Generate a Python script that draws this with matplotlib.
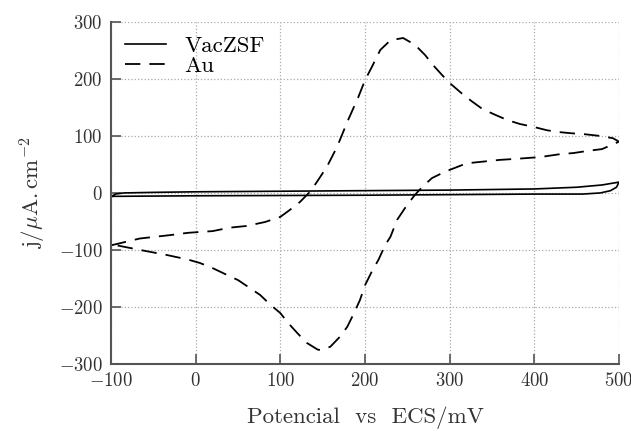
import matplotlib
matplotlib.use("Agg")
import matplotlib.pyplot as plt

plt.rcParams['font.family'] = 'serif'
plt.rcParams['font.serif'] = ['cmr10']
plt.rcParams['mathtext.fontset'] = 'cm'
plt.rcParams['axes.formatter.use_mathtext'] = True

# Au: barrido directo y de retorno (E en mV, j en uA/cm2)
au_e_fwd = [-100, -66, -30, -9, 20, 40, 60, 82, 100, 111, 123, 135, 143, 155, 167, 180,
            192, 200, 208, 218, 230, 245, 259, 271, 280, 291, 300, 314, 326, 339, 354, 368,
            383, 399, 415, 428, 442, 460, 478, 493, 500]
au_j_fwd = [-92, -80, -74, -70, -67, -61, -58, -51, -42, -30, -16, 2, 19, 46, 81, 128,
            168, 198, 221, 251, 268, 272, 260, 242, 225, 207, 193, 175, 161, 147, 137, 128,
            121, 116, 110, 107, 105, 103, 100, 96, 90]
au_e_rev = [500, 480, 464, 446, 430, 407, 380, 359, 320, 294, 279, 268, 261, 257, 247, 238,
            230, 224, 216, 208, 200, 194, 186, 179, 170, 159, 148, 144, 131, 120, 109, 100,
            88, 76, 64, 50, 37, 20, 5, -9, -34, -66, -100]
au_j_rev = [90, 77, 74, 70, 68, 63, 60, 58, 52, 37, 26, 11, 0, -7, -27, -47,
            -77, -91, -117, -138, -162, -188, -214, -235, -253, -270, -276, -275, -263, -246, -228, -211,
            -196, -179, -167, -153, -144, -132, -123, -117, -109, -100, -90]

# VacZSF
vac_e_fwd = [-100, -95, -85, -50, 0, 100, 200, 300, 400, 450, 480, 500]
vac_j_fwd = [-7, -2, 0, 1, 2, 3, 4, 5, 7, 10, 14, 19]
vac_e_rev = [500, 497, 490, 478, 457, 400, 300, 200, 100, 0, -100]
vac_j_rev = [19, 10, 4, 0, -2, -2, -3, -4, -4.5, -5, -6]

fig = plt.figure(figsize=(6.31, 4.41), dpi=100)
ax = fig.add_axes([0.176, 0.175, 0.805, 0.775])

ax.plot(vac_e_fwd + vac_e_rev, vac_j_fwd + vac_j_rev, color='black', lw=1.2, label='VacZSF')
ax.plot(au_e_fwd + au_e_rev, au_j_fwd + au_j_rev, color='black', lw=1.3,
        dashes=(8.5, 5), label='Au')

ax.set_xlim(-100, 500)
ax.set_ylim(-300, 300)
ax.set_xticks(range(-100, 501, 100))
ax.set_yticks(range(-300, 301, 100))
ax.grid(True, color='#aaaaaa', linestyle=':', linewidth=0.9)

for s in ['top', 'right']:
    ax.spines[s].set_visible(False)
for s in ['left', 'bottom']:
    ax.spines[s].set_color('#555555')
    ax.spines[s].set_linewidth(1.5)
ax.tick_params(direction='in', length=7, width=1.2, color='#555555',
               labelsize=13.5, labelcolor='#333333', pad=6)

ax.set_xlabel(r'Potencial  vs  ECS/mV', fontsize=16.5, color='#333333', labelpad=12)
ax.set_ylabel(r'$\mathrm{j}/\mu\mathrm{A.cm}^{-2}$', fontsize=16.5, color='#333333', labelpad=8)

ax.legend(loc='upper left', frameon=False, fontsize=16.5, handlelength=1.8,
          labelspacing=0.0, borderaxespad=0.2, handletextpad=0.8)

fig.savefig('out.png', dpi=100)
